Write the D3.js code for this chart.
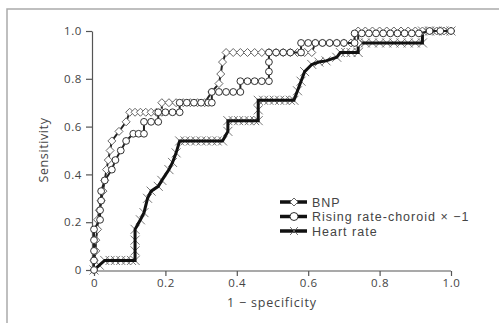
<!DOCTYPE html>
<html>
<head>
<meta charset="utf-8">
<script src="https://cdn.jsdelivr.net/npm/d3@7"></script>
<style>
  body { margin: 0; background: #fff; }
  text { font-family: "Open Sans", "Noto Sans", sans-serif; fill: #444; }
</style>
</head>
<body>
<div id="container"></div>
<script>
let w = 499;
let h = 323;

// [1 - specificity, sensitivity]
let bnpPoints = [
  [0,0],[0,0.04],[0.005,0.08],[0.005,0.125],[0.01,0.17],[0.01,0.21],[0.015,0.25],[0.02,0.29],
  [0.025,0.33],[0.03,0.375],[0.035,0.42],[0.04,0.46],[0.045,0.5],[0.05,0.54],[0.07,0.58],
  [0.09,0.62],[0.10,0.66],[0.115,0.66],[0.13,0.66],[0.145,0.66],[0.16,0.66],[0.175,0.66],
  [0.19,0.66],[0.19,0.70],[0.21,0.70],[0.23,0.70],[0.25,0.70],[0.27,0.70],[0.29,0.70],
  [0.31,0.70],[0.33,0.745],[0.35,0.78],[0.355,0.82],[0.36,0.87],[0.37,0.91],[0.39,0.91],
  [0.41,0.91],[0.43,0.91],[0.45,0.91],[0.47,0.91],[0.49,0.91],[0.51,0.91],[0.53,0.91],
  [0.55,0.91],[0.57,0.91],[0.59,0.91],[0.61,0.91],[0.62,0.95],[0.64,0.95],[0.66,0.95],
  [0.68,0.95],[0.70,0.95],[0.72,0.95],[0.74,0.95],[0.74,1],[0.76,1],[0.78,1],[0.80,1],
  [0.82,1],[0.84,1],[0.86,1],[0.88,1],[0.90,1],[0.92,1],[0.94,1],[0.96,1],[0.98,1],[1,1]
];
let risingPoints = [
  [0,0],[0,0.04],[0,0.08],[0,0.125],[0,0.17],[0.017,0.21],[0.017,0.25],[0.02,0.29],
  [0.02,0.33],[0.03,0.375],[0.05,0.42],[0.06,0.46],[0.075,0.5],[0.09,0.54],[0.11,0.57],
  [0.125,0.57],[0.14,0.57],[0.14,0.62],[0.16,0.62],[0.18,0.62],[0.18,0.66],[0.20,0.66],
  [0.22,0.66],[0.24,0.66],[0.24,0.70],[0.26,0.70],[0.28,0.70],[0.30,0.70],[0.32,0.70],
  [0.33,0.70],[0.33,0.745],[0.35,0.745],[0.37,0.745],[0.39,0.745],[0.41,0.745],[0.41,0.79],
  [0.43,0.79],[0.45,0.79],[0.47,0.79],[0.49,0.79],[0.49,0.83],[0.49,0.87],[0.49,0.91],
  [0.51,0.91],[0.53,0.91],[0.55,0.91],[0.58,0.91],[0.58,0.95],[0.60,0.95],[0.62,0.95],
  [0.64,0.95],[0.66,0.95],[0.68,0.95],[0.70,0.95],[0.73,0.95],[0.73,0.99],[0.75,0.99],
  [0.77,0.99],[0.79,0.99],[0.81,0.99],[0.83,0.99],[0.85,0.99],[0.87,0.99],[0.89,0.99],
  [0.91,0.99],[0.94,1],[0.97,1],[1,1]
];
let hrPoints = [
  [0,0],[0.015,0.02],[0.03,0.04],[0.045,0.04],[0.06,0.04],[0.075,0.04],[0.09,0.04],
  [0.105,0.04],[0.115,0.04],[0.115,0.08],[0.115,0.125],[0.115,0.17],[0.13,0.21],[0.14,0.24],
  [0.15,0.30],[0.16,0.33],[0.18,0.35],[0.19,0.375],[0.21,0.42],[0.22,0.45],[0.23,0.49],
  [0.24,0.54],[0.255,0.54],[0.27,0.54],[0.285,0.54],[0.30,0.54],[0.315,0.54],[0.33,0.54],
  [0.345,0.54],[0.36,0.54],[0.375,0.58],[0.375,0.625],[0.39,0.625],[0.405,0.625],[0.42,0.625],
  [0.435,0.625],[0.45,0.625],[0.46,0.625],[0.46,0.67],[0.46,0.71],[0.475,0.71],[0.49,0.71],
  [0.505,0.71],[0.52,0.71],[0.535,0.71],[0.55,0.71],[0.56,0.71],[0.57,0.75],[0.58,0.79],
  [0.59,0.83],[0.61,0.86],[0.63,0.87],[0.65,0.875],[0.68,0.89],[0.69,0.91],[0.705,0.91],
  [0.72,0.91],[0.74,0.91],[0.74,0.95],[0.76,0.95],[0.78,0.95],[0.80,0.95],[0.82,0.95],
  [0.84,0.95],[0.86,0.95],[0.88,0.95],[0.90,0.95],[0.92,0.95],[0.92,1],[0.94,1],[0.96,1],
  [0.98,1],[1,1]
];
let xTicks = [0, 0.2, 0.4, 0.6, 0.8, 1.0];
let yTicks = [0, 0.2, 0.4, 0.6, 0.8, 1.0];
let legendNames = ["BNP", "Rising rate-choroid \u00d7 \u22121", "Heart rate"];

let viz = d3.select("#container").append("svg")
  .attr("width", w)
  .attr("height", h);

// outer frame
viz.append("rect").attr("x", 7).attr("y", 9).attr("width", 600).attr("height", 400)
  .attr("fill", "none").attr("stroke", "#aaa").attr("stroke-width", 1.5);

let xScale = d3.scaleLinear().domain([0, 1]).range([94, 451]);
let yScale = d3.scaleLinear().domain([0, 1]).range([270, 31]);

function fmt(d) { return d == 0 ? "0" : d3.format(".1f")(d); }

let xAxis = d3.axisBottom(xScale).tickValues(xTicks).tickFormat(fmt).tickSize(5).tickSizeOuter(0);
let yAxis = d3.axisLeft(yScale).tickValues(yTicks).tickFormat(fmt).tickSize(6).tickSizeOuter(0);

let xAxisGroup = viz.append("g").attr("transform", "translate(0,271)").call(xAxis);
let yAxisGroup = viz.append("g").attr("transform", "translate(92,0)").call(yAxis);
[xAxisGroup, yAxisGroup].forEach(g => {
  g.select(".domain").attr("stroke", "#555").attr("stroke-width", 1.2);
  g.selectAll(".tick line").attr("stroke", "#555").attr("stroke-width", 1.2);
  g.selectAll("text").style("font-family", "'Open Sans', sans-serif").style("font-size", "11.5px")
    .style("letter-spacing", "0.6px").attr("fill", "#555");
});
xAxisGroup.select(".domain").attr("d", "M" + 92 + ",0H" + xScale(1));
yAxisGroup.selectAll(".tick text").attr("x", -10);
xAxisGroup.selectAll(".tick text").attr("y", 8);

viz.append("text").attr("x", 272).attr("y", 307).attr("text-anchor", "middle")
  .style("font-size", "12.5px").style("letter-spacing", "0.8px").text("1 \u2212 specificity");
viz.append("text").attr("transform", "translate(48,150) rotate(-90)").attr("text-anchor", "middle")
  .style("font-size", "12.5px").style("letter-spacing", "0.6px").text("Sensitivity");

let line = d3.line().x(d => xScale(d[0])).y(d => yScale(d[1]));

function drawX(g, x, y, s) {
  g.append("path").attr("d", "M" + (x - s) + "," + (y - s) + "L" + (x + s) + "," + (y + s) +
    "M" + (x - s) + "," + (y + s) + "L" + (x + s) + "," + (y - s))
    .attr("stroke", "#666").attr("stroke-width", 0.9).attr("fill", "none");
}
function drawDiamond(g, x, y, s) {
  g.append("path").attr("d", "M" + x + "," + (y - s) + "L" + (x + s) + "," + y + "L" + x + "," + (y + s) + "L" + (x - s) + "," + y + "Z")
    .attr("fill", "#fff").attr("stroke", "#666").attr("stroke-width", 1);
}
function drawCircle(g, x, y, r) {
  g.append("circle").attr("cx", x).attr("cy", y).attr("r", r)
    .attr("fill", "#fff").attr("stroke", "#333").attr("stroke-width", 1);
}

// heart rate
let hrG = viz.append("g");
hrPoints.forEach(d => drawX(hrG, xScale(d[0]), yScale(d[1]), 4.5));
hrG.append("path").datum(hrPoints).attr("d", line).attr("fill", "none")
  .attr("stroke", "#111").attr("stroke-width", 3);

// BNP
let bnpG = viz.append("g");
bnpG.append("path").datum(bnpPoints).attr("d", line).attr("fill", "none")
  .attr("stroke", "#222").attr("stroke-width", 2);
bnpPoints.forEach(d => drawDiamond(bnpG, xScale(d[0]), yScale(d[1]), 4));

// rising rate
let riseG = viz.append("g");
riseG.append("path").datum(risingPoints).attr("d", line).attr("fill", "none")
  .attr("stroke", "#222").attr("stroke-width", 2);
risingPoints.forEach(d => drawCircle(riseG, xScale(d[0]), yScale(d[1]), 3.4));

// legend
let legend = viz.append("g").attr("transform", "translate(280,0)");
let legendY = [202, 216.5, 231];
legendNames.forEach((name, i) => {
  let y = legendY[i];
  legend.append("line").attr("x1", 0).attr("x2", 27).attr("y1", y).attr("y2", y)
    .attr("stroke", "#111").attr("stroke-width", 3.5);
  if (i == 0) drawDiamond(legend, 14, y, 4);
  if (i == 1) drawCircle(legend, 14, y, 4);
  if (i == 2) drawX(legend, 14, y, 4);
  legend.append("text").attr("x", 32).attr("y", y + 4.5)
    .style("font-family", "'Liberation Sans', Arial, sans-serif").style("font-size", "12.5px")
    .style("letter-spacing", "1px").attr("fill", "#333").text(name);
});
</script>
</body>
</html>
